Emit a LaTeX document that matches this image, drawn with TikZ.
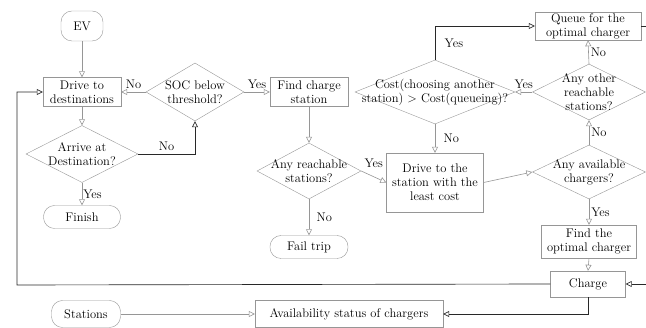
\documentclass[tikz,border=0pt]{standalone}
\usetikzlibrary{shapes.geometric, arrows.meta}
\definecolor{linegray}{RGB}{150,150,150}
\definecolor{loopblack}{RGB}{40,40,40}

\begin{document}
\begin{tikzpicture}[x=1pt, y=-1pt,
    every node/.style={font=\fontsize{12.5}{14}\selectfont},
    box/.style={draw=linegray, rectangle, align=center, inner sep=1pt},
    term/.style={draw=linegray, rectangle, rounded corners=11pt, align=center, inner sep=1pt},
    decision/.style={draw=linegray, diamond, inner sep=0pt},
    qtext/.style={align=center, inner sep=0pt},
    flow/.style={draw=linegray, line width=0.6pt, -{Triangle[open, length=6pt, width=6pt]}},
    back/.style={draw=loopblack, line width=0.65pt, -{Triangle[open, length=6pt, width=6pt]}}]

  \useasboundingbox (0,0) rectangle (646,328);
  \clip (0,0) rectangle (646,328);

  % --- Left column: driving ---
  \node[term, minimum width=42pt, minimum height=30pt] (ev) at (82,26) {EV};
  \node[box, minimum width=78pt, minimum height=29pt] (drive) at (82,92) {Drive to\\destinations};
  \node[decision, minimum width=112pt, minimum height=57pt,
        label={[qtext]center:Arrive at\\Destination?}] (arrive) at (82,154) {};
  \node[term, minimum width=77pt, minimum height=23pt] (finish) at (82,217) {Finish};

  % --- Middle: searching a station ---
  \node[decision, minimum width=98pt, minimum height=58pt,
        label={[qtext]center:SOC below\\threshold?}] (soc) at (195,92) {};
  \node[box, minimum width=78pt, minimum height=29pt] (find) at (309,92) {Find charge\\station};
  \node[decision, minimum width=104pt, minimum height=56pt,
        label={[qtext]center:Any reachable\\stations?}] (reach) at (309,171) {};
  \node[term, minimum width=78pt, minimum height=23pt] (fail) at (309,247) {Fail trip};
  \node[box, minimum width=97pt, minimum height=59pt] (drivest) at (435,182.5)
        {Drive to the\\station with the\\least cost};
  \node[decision, minimum width=160pt, minimum height=64pt,
        label={[qtext]center:Cost(choosing another\\station) \textgreater{} Cost(queueing)?}] (cost) at (435,92) {};

  % --- Right column: charging ---
  \node[box, minimum width=106pt, minimum height=28pt] (queue) at (588,26) {Queue for the\\optimal charger};
  \node[decision, minimum width=113pt, minimum height=56pt,
        label={[qtext]center:Any other\\reachable\\stations?}] (other) at (589,92) {};
  \node[decision, minimum width=113pt, minimum height=54pt,
        label={[qtext]center:Any available\\chargers?}] (avail) at (589,172) {};
  \node[box, minimum width=95pt, minimum height=33pt] (findopt) at (589,241.5) {Find the\\optimal charger};
  \node[box, minimum width=75pt, minimum height=26pt] (charge) at (588,284) {Charge};

  % --- Bottom row ---
  \node[term, minimum width=69pt, minimum height=27pt] (stations) at (86,314) {Stations};
  \node[box, minimum width=188pt, minimum height=27pt] (availst) at (349,314) {Availability status of chargers};

  \coordinate (lside) at (17,285);
  \coordinate (rside) at (652,284);

  % Gray flow
  \draw[flow] (ev) -- (drive);
  \draw[flow] (drive) -- (arrive);
  \draw[flow] (soc.west) -- node[above] {No} (drive.east);
  \draw[flow] (soc.east) -- node[above] {Yes} (find.west);
  \draw[flow] (arrive.south) -- node[right, inner sep=1pt] {Yes} (finish.north);
  \draw[flow] (find.south) -- (reach.north);
  \draw[flow] (reach.south) -- node[right=4pt] {No} (fail.north);
  \draw[flow] (reach.east) -- node[above=5pt] {Yes} (drivest.west);
  \draw[flow] (drivest.east) -- (avail.west);
  \draw[flow] (avail.south) -- node[right, inner sep=2pt] {Yes} (findopt.north);
  \draw[flow] (findopt.south) -- (charge.north);
  \draw[flow] (avail.north) -- node[right, inner sep=2pt] {No} (other.south);
  \draw[flow] (other.north) -- node[right, inner sep=2pt] {No} (queue.south);
  \draw[flow] (other.west) -- node[above] {Yes} (cost.east);
  \draw[flow] (cost.south) -- node[right=5pt] {No} (drivest.north);
  \draw[flow] (stations) -- (availst);

  % Dark connectors
  \draw[back] (arrive.east) -| node[pos=0.25, above] {No} (soc.south);
  \draw[back] (cost.north) |- node[pos=0.25, right=6pt] {Yes} (queue.west);
  \draw[back] (queue.east) -| (rside) -- (charge.east);
  \draw[back] (charge.west) -- (lside) |- (drive.west);
  \draw[back] (charge.south) |- (availst.east);
\end{tikzpicture}
\end{document}
